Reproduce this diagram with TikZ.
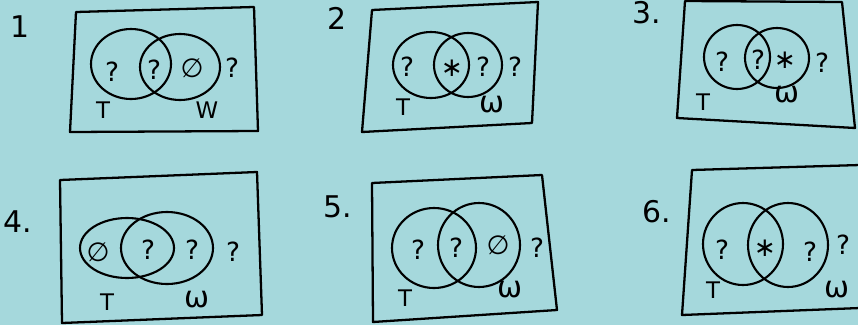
\documentclass[tikz,border=0pt]{standalone}
\usepackage{fontspec}
\setmainfont{DejaVu Sans}
\usetikzlibrary{
positioning
}
\definecolor{paper}{RGB}{165,216,220}
\tikzset{
frame/.style={
draw,
line width=1.3pt,
line join=round
},
venn/.style={
draw,
line width=1.2pt
},
num/.style={
font=\fontsize{17}{19}\selectfont,
inner sep=0pt
},
region/.style={
font=\fontsize{15}{18}\selectfont,
inner sep=0pt
},
setname/.style={
font=\fontsize{13}{15}\selectfont,
inner sep=0pt
},
omega/.style={
font=\fontsize{17}{19}\selectfont,
inner sep=0pt
}
}

\begin{document}
\begin{tikzpicture}[x=0.02cm, y=-0.02cm]
\fill[paper] (0,0) rectangle (858,325);
\useasboundingbox (0,0) rectangle (858,325);

% panel 1
\node[num] (n1) at (20,27) {1};
\draw[frame] (76,12) -- (254,7) -- (258,131) -- (70,132) -- cycle;
\draw[venn] (131,64) ellipse [x radius=40, y radius=35];
\draw[venn] (180,67) ellipse [x radius=40, y radius=33];
\node[region] (a1) at (112,72) {?};
\node[region] (b1) at (154,70) {?};
\node[region] (c1) at (192,68) {∅};
\node[region] (d1) at (232,68) {?};
\node[setname] (t1) at (103,110) {T};
\node[setname] (w1) at (207,110) {W};

% panel 2
\node[num] (n2) at (337,18) {2};
\draw[frame] (372,10) -- (538,2) -- (532,123) -- (362,132) -- cycle;
\draw[venn] (431,65) ellipse [x radius=38, y radius=33];
\draw[venn] (468,65) ellipse [x radius=34, y radius=32];
\node[region] (a2) at (407,67) {?};
\node[region] (b2) at (452,68) {∗};
\node[region] (c2) at (483,67) {?};
\node[region] (d2) at (515,67) {?};
\node[setname] (t2) at (403,107) {T};
\node[omega] (w2) at (492,105) {ω};

% panel 3
\node[num] (n3) at (647,13) {3.};
\draw[frame] (685,1) -- (842,2) -- (855,128) -- (677,118) -- cycle;
\draw[venn] (737,57) ellipse [x radius=33, y radius=32];
\draw[venn] (777,58) ellipse [x radius=32, y radius=30];
\node[region] (a3) at (722,62) {?};
\node[region] (b3) at (758,60) {?};
\node[region] (c3) at (785,60) {∗};
\node[region] (d3) at (822,63) {?};
\node[setname] (t3) at (703,102) {T};
\node[omega] (w3) at (787,95) {ω};

% panel 4
\node[num] (n4) at (18,222) {4.};
\draw[frame] (60,180) -- (257,172) -- (262,315) -- (62,323) -- cycle;
\draw[venn] (127,248) ellipse [x radius=47, y radius=30];
\draw[venn] (167,248) ellipse [x radius=46, y radius=36];
\node[region] (a4) at (98,252) {∅};
\node[region] (b4) at (148,250) {?};
\node[region] (c4) at (192,250) {?};
\node[region] (d4) at (233,252) {?};
\node[setname] (t4) at (107,302) {T};
\node[omega] (w4) at (197,300) {ω};

% panel 5
\node[num] (n5) at (338,207) {5.};
\draw[frame] (372,183) -- (542,175) -- (557,310) -- (373,322) -- cycle;
\draw[venn] (434,248) ellipse [x radius=42, y radius=40];
\draw[venn] (479,245) ellipse [x radius=41, y radius=42];
\node[region] (a5) at (418,250) {?};
\node[region] (b5) at (456,248) {?};
\node[region] (c5) at (498,245) {∅};
\node[region] (d5) at (537,248) {?};
\node[setname] (t5) at (405,298) {T};
\node[omega] (w5) at (510,290) {ω};

% panel 6
\node[num] (n6) at (657,212) {6.};
\draw[frame] (860,165) -- (692,170) -- (682,315) -- (860,308);
\draw[venn] (743,244) ellipse [x radius=40, y radius=41];
\draw[venn] (788,245) ellipse [x radius=40, y radius=42];
\node[region] (a6) at (722,250) {?};
\node[region] (b6) at (765,248) {∗};
\node[region] (c6) at (810,252) {?};
\node[region] (d6) at (843,245) {?};
\node[setname] (t6) at (713,290) {T};
\node[omega] (w6) at (837,290) {ω};
\end{tikzpicture}
\end{document}
